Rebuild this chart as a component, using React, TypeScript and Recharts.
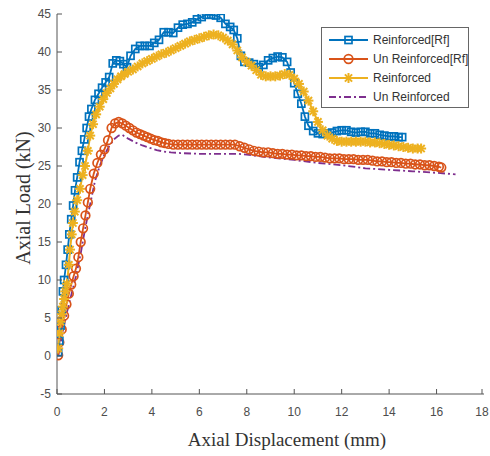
import { LineChart, Line, XAxis, YAxis, Legend, Label } from "recharts";

// ---- axis ticks ----
const xTicks = [0, 2, 4, 6, 8, 10, 12, 14, 16, 18];
const yTicks = [-5, 0, 5, 10, 15, 20, 25, 30, 35, 40, 45];

// ---- series: [displacement (mm), load (kN)] ----
const reinforcedRf: [number, number][] = [
  [0.05, 0.5], [0.1, 2], [0.15, 4], [0.2, 6], [0.25, 8.5], [0.3, 10], [0.38, 12], [0.45, 14],
  [0.52, 16], [0.6, 18], [0.68, 19.8], [0.76, 21.8], [0.85, 23.5], [0.95, 25.5], [1.05, 27],
  [1.15, 28.5], [1.25, 30], [1.35, 31.5], [1.45, 32.5], [1.6, 33.7], [1.75, 34.5], [1.9, 35.3],
  [2.05, 36], [2.2, 36.7], [2.35, 38.5], [2.5, 38.9], [2.65, 38.8], [2.8, 38.4], [2.95, 38],
  [3.1, 39.5], [3.3, 40.4], [3.5, 40.8], [3.7, 40.8], [3.9, 40.8], [4.1, 41.2], [4.3, 41.6],
  [4.5, 42.6], [4.7, 42.6], [4.9, 42.5], [5.1, 43.2], [5.3, 43.6], [5.5, 43.7], [5.7, 43.9],
  [5.9, 44.3], [6.1, 44.6], [6.3, 44.9], [6.5, 44.9], [6.7, 44.8], [6.9, 44.5], [7.1, 43.7],
  [7.3, 43.3], [7.45, 42.9], [7.6, 41.8], [7.75, 39.5], [7.9, 38.7], [8.1, 38.6], [8.3, 38.4],
  [8.5, 38.0], [8.7, 38.3], [8.9, 38.9], [9.1, 39.2], [9.3, 39.4], [9.5, 39.3], [9.7, 38.7],
  [9.85, 37.3], [10.0, 35.9], [10.15, 34.5], [10.3, 33.2], [10.45, 31.5], [10.6, 30.3],
  [10.8, 29.6], [11.0, 29.3], [11.2, 29.2], [11.4, 29.3], [11.6, 29.4], [11.8, 29.6], [12.0, 29.7],
  [12.2, 29.7], [12.4, 29.5], [12.6, 29.4], [12.8, 29.5], [13.0, 29.5], [13.2, 29.3], [13.4, 29.3],
  [13.6, 29.1], [13.8, 29.0], [14.0, 28.9], [14.2, 28.9], [14.4, 28.8], [14.55, 28.8],
];

const unReinforcedRf: [number, number][] = [
  [0.05, 0.1], [0.1, 1.8], [0.2, 3.5], [0.3, 5.3], [0.4, 6.8], [0.5, 8.2], [0.6, 9.4], [0.7, 10.5],
  [0.8, 11.5], [0.9, 13], [1.0, 15], [1.1, 16.8], [1.2, 18.5], [1.3, 20.2], [1.4, 22], [1.55, 24],
  [1.7, 25.4], [1.85, 26.5], [2.0, 27.2], [2.15, 28.4], [2.3, 30], [2.45, 30.6], [2.6, 30.8],
  [2.75, 30.6], [2.9, 30.3], [3.05, 30.0], [3.2, 29.7], [3.35, 29.4], [3.5, 29.2], [3.65, 29.0],
  [3.8, 28.8], [3.95, 28.6], [4.1, 28.4], [4.25, 28.3], [4.4, 28.1], [4.55, 28.0], [4.7, 27.9],
  [4.9, 27.8], [5.1, 27.8], [5.3, 27.8], [5.5, 27.8], [5.7, 27.8], [5.9, 27.8], [6.1, 27.8],
  [6.3, 27.8], [6.5, 27.8], [6.7, 27.8], [6.9, 27.8], [7.1, 27.8], [7.3, 27.8], [7.5, 27.8],
  [7.7, 27.6], [7.9, 27.4], [8.1, 27.2], [8.3, 27.0], [8.5, 26.9], [8.7, 26.8], [8.9, 26.8],
  [9.1, 26.7], [9.3, 26.6], [9.5, 26.6], [9.7, 26.5], [9.9, 26.5], [10.1, 26.4], [10.3, 26.4],
  [10.5, 26.3], [10.7, 26.3], [10.9, 26.2], [11.1, 26.2], [11.3, 26.1], [11.5, 26.0], [11.7, 26.0],
  [11.9, 26.0], [12.1, 25.9], [12.3, 25.9], [12.5, 25.9], [12.7, 25.8], [12.9, 25.8], [13.1, 25.8],
  [13.3, 25.7], [13.5, 25.6], [13.7, 25.6], [13.9, 25.5], [14.1, 25.5], [14.3, 25.4], [14.5, 25.4],
  [14.7, 25.3], [14.9, 25.3], [15.1, 25.2], [15.3, 25.2], [15.5, 25.1], [15.7, 25.1], [15.9, 25.0],
  [16.1, 24.9], [16.2, 24.8],
];

const reinforced: [number, number][] = [
  [0.05, 1], [0.1, 3], [0.15, 4.5], [0.2, 5.5], [0.25, 6.5], [0.3, 7.5], [0.35, 8.5], [0.42, 9.5],
  [0.5, 12], [0.55, 14], [0.62, 16], [0.67, 17.5], [0.75, 19], [0.85, 20.5], [0.97, 22],
  [1.08, 23.8], [1.18, 25], [1.3, 27], [1.4, 29], [1.52, 30.5], [1.65, 31.8], [1.8, 32.8],
  [1.95, 33.8], [2.1, 34.6], [2.25, 35.2], [2.4, 35.8], [2.55, 36.4], [2.7, 36.8], [2.85, 37.1],
  [3.0, 37.4], [3.2, 37.7], [3.4, 38.1], [3.6, 38.5], [3.8, 38.8], [4.0, 39.1], [4.2, 39.4],
  [4.4, 39.7], [4.6, 39.9], [4.8, 40.2], [5.0, 40.5], [5.2, 40.8], [5.4, 41.1], [5.6, 41.4],
  [5.8, 41.6], [6.0, 41.8], [6.2, 42.0], [6.4, 42.2], [6.6, 42.3], [6.8, 42.2], [7.0, 41.9],
  [7.2, 41.5], [7.4, 41.0], [7.6, 40.2], [7.8, 39.3], [8.0, 38.7], [8.2, 38.2], [8.4, 37.6],
  [8.6, 37.0], [8.8, 36.8], [9.0, 36.8], [9.2, 36.8], [9.4, 36.9], [9.6, 37.1], [9.8, 37.0],
  [10.0, 36.5], [10.2, 35.8], [10.4, 34.8], [10.6, 33.6], [10.8, 32.2], [11.0, 30.8], [11.2, 29.7],
  [11.4, 29.0], [11.6, 28.6], [11.8, 28.3], [12.0, 28.2], [12.2, 28.2], [12.4, 28.2], [12.6, 28.2],
  [12.8, 28.2], [13.0, 28.2], [13.2, 28.1], [13.4, 28.1], [13.6, 28.0], [13.8, 27.9], [14.0, 27.8],
  [14.2, 27.7], [14.4, 27.6], [14.6, 27.5], [14.8, 27.4], [15.0, 27.3], [15.2, 27.3], [15.35, 27.3],
];

const unReinforced: [number, number][] = [
  [0.05, 0], [0.2, 2.5], [0.4, 5.5], [0.6, 8], [0.8, 10.5], [1.0, 13.5], [1.2, 17], [1.4, 20],
  [1.6, 23], [1.8, 25], [2.0, 26.5], [2.2, 27.6], [2.4, 28.5], [2.6, 29.0], [2.75, 29.1],
  [3.0, 28.6], [3.3, 28.1], [3.6, 27.7], [3.9, 27.4], [4.2, 27.1], [4.5, 26.9], [4.8, 26.8],
  [5.2, 26.7], [6.0, 26.6], [7.0, 26.6], [7.6, 26.6], [8.0, 26.5], [8.5, 26.3], [9.0, 26.1],
  [10, 25.8], [11, 25.4], [12, 25.1], [13, 24.7], [14, 24.5], [15, 24.3], [16, 24.1], [16.8, 23.9],
];

const seriesNames = ["Reinforced[Rf]", "Un Reinforced[Rf]", "Reinforced", "Un Reinforced"];

// ---- styling ----
const BLUE = "#0072BD";
const ORANGE = "#D95319";
const YELLOW = "#EDB120";
const PURPLE = "#7E2F8E";
const AXIS = "#555";
const TICK = "#4d4d4d";
const SANS = "'Liberation Sans', Arial, sans-serif";
const SERIF = "'Liberation Serif', 'Times New Roman', serif";

const rows = (pts: [number, number][]) => pts.map(([x, y]) => ({ x, y }));

// ---- markers ----
const Square = ({ cx, cy }: { cx: number; cy: number }) => (
  <rect x={cx - 3.5} y={cy - 3.5} width={7} height={7} fill="none" stroke={BLUE} strokeWidth={1.7} />
);
const Circle = ({ cx, cy }: { cx: number; cy: number }) => (
  <circle cx={cx} cy={cy} r={4.3} fill="none" stroke={ORANGE} strokeWidth={1.7} />
);
const Star = ({ cx, cy }: { cx: number; cy: number }) => {
  const r = 5;
  const d = r * 0.72;
  return (
    <g stroke={YELLOW} strokeWidth={2}>
      <line x1={cx - r} y1={cy} x2={cx + r} y2={cy} />
      <line x1={cx} y1={cy - r} x2={cx} y2={cy + r} />
      <line x1={cx - d} y1={cy - d} x2={cx + d} y2={cy + d} />
      <line x1={cx - d} y1={cy + d} x2={cx + d} y2={cy - d} />
    </g>
  );
};

const squareDot = (p: any) => <Square key={`s${p.index}`} cx={p.cx} cy={p.cy} />;
const circleDot = (p: any) => <Circle key={`c${p.index}`} cx={p.cx} cy={p.cy} />;
const starDot = (p: any) => <Star key={`t${p.index}`} cx={p.cx} cy={p.cy} />;

// ---- ticks (MATLAB style: ticks inside the box) ----
const BottomTick = ({ x, y, payload }: any) => (
  <g>
    <line x1={x} x2={x} y1={y} y2={y - 5} stroke={AXIS} />
    <text x={x} y={y + 22} textAnchor="middle" fontSize={12} fill={TICK} fontFamily={SANS}>
      {payload.value}
    </text>
  </g>
);
const LeftTick = ({ x, y, payload }: any) => (
  <g>
    <line x1={x} x2={x + 5} y1={y} y2={y} stroke={AXIS} />
    <text x={x - 6} y={y + 4.3} textAnchor="end" fontSize={12} fill={TICK} fontFamily={SANS}>
      {payload.value}
    </text>
  </g>
);
const TopTick = ({ x, y }: any) => <line x1={x} x2={x} y1={y} y2={y + 5} stroke={AXIS} />;
const RightTick = ({ x, y }: any) => <line x1={x} x2={x - 5} y1={y} y2={y} stroke={AXIS} />;

// ---- legend ----
const legendMarkers = [
  (cx: number, cy: number) => <Square cx={cx} cy={cy} />,
  (cx: number, cy: number) => <Circle cx={cx} cy={cy} />,
  (cx: number, cy: number) => <Star cx={cx} cy={cy} />,
  null,
];
const legendColors = [BLUE, ORANGE, YELLOW, PURPLE];

const renderLegend = () => (
  <svg width={148} height={81} style={{ display: "block" }}>
    <rect x={0.5} y={0.5} width={147} height={80} fill="white" stroke="#666" />
    {seriesNames.map((name, i) => {
      const cy = 13 + i * 19;
      const mk = legendMarkers[i];
      return (
        <g key={name}>
          <line
            x1={8} x2={47} y1={cy} y2={cy}
            stroke={legendColors[i]}
            strokeWidth={1.8}
            strokeDasharray={i === 3 ? "7 3 2 3" : undefined}
          />
          {mk && mk(27.5, cy)}
          <text x={52} y={cy + 4.3} fontSize={12} fill="#333" fontFamily={SANS}>{name}</text>
        </g>
      );
    })}
  </svg>
);

export default function App() {
  return (
    <div style={{ position: "absolute", left: 0, top: 0, background: "white" }}>
      <LineChart width={490} height={456} margin={{ top: 14, right: 6, left: 0, bottom: 0 }}>
        <XAxis
          xAxisId={0}
          type="number"
          dataKey="x"
          domain={[0, 18]}
          ticks={xTicks}
          allowDataOverflow
          height={62}
          stroke={AXIS}
          tickSize={0}
          tickMargin={0}
          tickLine={false}
          tick={<BottomTick />}
        >
          <Label
            content={() => (
              <text x={287} y={446} textAnchor="middle" fontSize={19} fill="#333" fontFamily={SERIF}>
                Axial Displacement (mm)
              </text>
            )}
          />
        </XAxis>
        <XAxis
          xAxisId="top"
          orientation="top"
          type="number"
          dataKey="x"
          domain={[0, 18]}
          ticks={xTicks}
          allowDataOverflow
          height={0}
          stroke={AXIS}
          tickSize={0}
          tickMargin={0}
          tickLine={false}
          tick={<TopTick />}
        />
        <YAxis
          yAxisId={0}
          type="number"
          domain={[-5, 45]}
          ticks={yTicks}
          allowDataOverflow
          width={57}
          stroke={AXIS}
          tickSize={0}
          tickMargin={0}
          tickLine={false}
          tick={<LeftTick />}
        >
          <Label
            content={() => (
              <text
                x={30} y={198}
                textAnchor="middle"
                fontSize={20}
                fill="#333"
                fontFamily={SERIF}
                transform="rotate(-90, 30, 198)"
              >
                Axial Load (kN)
              </text>
            )}
          />
        </YAxis>
        <YAxis
          yAxisId="right"
          orientation="right"
          type="number"
          domain={[-5, 45]}
          ticks={yTicks}
          allowDataOverflow
          width={0}
          stroke={AXIS}
          tickSize={0}
          tickMargin={0}
          tickLine={false}
          tick={<RightTick />}
        />
        <Legend
          layout="horizontal"
          verticalAlign="middle"
          align="center"
          content={renderLegend}
          wrapperStyle={{ left: 321, top: 27, width: 148, height: 81 }}
        />
        <Line
          data={rows(unReinforced)}
          dataKey="y"
          name={seriesNames[3]}
          type="linear"
          stroke={PURPLE}
          strokeWidth={1.8}
          strokeDasharray="7 3 2 3"
          dot={false}
          isAnimationActive={false}
        />
        <Line
          data={rows(unReinforcedRf)}
          dataKey="y"
          name={seriesNames[1]}
          type="linear"
          stroke={ORANGE}
          strokeWidth={1.8}
          dot={circleDot}
          isAnimationActive={false}
        />
        <Line
          data={rows(reinforcedRf)}
          dataKey="y"
          name={seriesNames[0]}
          type="linear"
          stroke={BLUE}
          strokeWidth={1.8}
          dot={squareDot}
          isAnimationActive={false}
        />
        <Line
          data={rows(reinforced)}
          dataKey="y"
          name={seriesNames[2]}
          type="linear"
          stroke={YELLOW}
          strokeWidth={2}
          dot={starDot}
          isAnimationActive={false}
        />
      </LineChart>
    </div>
  );
}
